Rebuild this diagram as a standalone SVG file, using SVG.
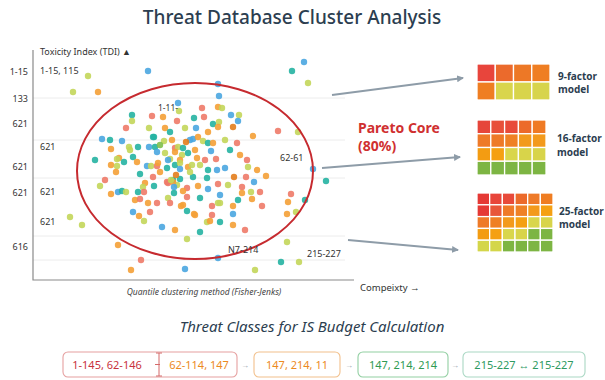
<svg xmlns="http://www.w3.org/2000/svg" width="605" height="380" viewBox="0 0 605 380">
<style>
text{font-family:"Noto Sans","Open Sans","Liberation Sans",sans-serif}
.title{font-size:19px;fill:#2c3e50;font-weight:500}
.sub{font-size:15px;fill:#2c3e50;font-style:italic}
.ax{font-size:9px;fill:#333}
.tk{font-size:9px;fill:#333}
.lab{font-size:9px;fill:#333}
.axis{stroke:#8a8a8a;stroke-width:1.2;fill:none}
.grid{stroke:#ececec;stroke-width:1}
circle{r:3.2px;opacity:.9}
.b{fill:#4aa6e0}.t{fill:#25b3a2}.g{fill:#7fbf4d}.y{fill:#c3d65a}.o{fill:#f4a036}.s{fill:#ee7a68}.d{fill:#e37d1c}
.arr{stroke:#8e9ca8;stroke-width:1.8;fill:none;marker-end:url(#ah)}
.ml{font-size:10px;font-weight:bold;fill:#2c3e50}
.cell{stroke:#fff;stroke-width:1.3}
.box{fill:#fff;stroke-width:1.1}
.bt{font-size:11px}
.sm{font-size:8px;fill:#9aa4ac}
</style>
<defs>
<marker id="ah" markerWidth="8" markerHeight="8" refX="6" refY="4" orient="auto" markerUnits="userSpaceOnUse">
<path d="M0,0.5 L7,4 L0,7.5 Z" fill="#8e9ca8"/>
</marker>
<clipPath id="c9"><rect x="477" y="64" width="73" height="36" rx="3"/></clipPath>
<clipPath id="c16"><rect x="477" y="120" width="69" height="55" rx="3"/></clipPath>
<clipPath id="c25"><rect x="477" y="193" width="76" height="59" rx="3"/></clipPath>
</defs>
<rect width="605" height="380" fill="#fff"/>
<text class="title" x="292" y="24" text-anchor="middle">Threat Database Cluster Analysis</text>

<g id="plot">
<line class="grid" x1="33" y1="98" x2="345" y2="98"/>
<line class="grid" x1="33" y1="140" x2="345" y2="140"/>
<line class="grid" x1="33" y1="178" x2="345" y2="178"/>
<line class="grid" x1="33" y1="236" x2="345" y2="236"/>
<line class="grid" x1="33" y1="260" x2="345" y2="260"/>
<path class="axis" d="M33,50 V280 H354"/>
<text class="ax" x="40" y="55">Toxicity Index (TDI) ▲</text>
<text class="tk" x="28" y="75" text-anchor="end">1-15</text>
<text class="tk" x="28" y="102" text-anchor="end">133</text>
<text class="tk" x="28" y="127" text-anchor="end">621</text>
<text class="tk" x="28" y="170" text-anchor="end">621</text>
<text class="tk" x="28" y="196" text-anchor="end">621</text>
<text class="tk" x="28" y="250" text-anchor="end">616</text>
<text class="lab" x="40" y="74">1-15, 115</text>
<text class="lab" x="40" y="150">621</text>
<text class="lab" x="40" y="195">621</text>
<text class="lab" x="40" y="225">621</text>
<text x="204" y="295" text-anchor="middle" style="font-size:8.5px;font-style:italic;fill:#444">Quantile clustering method (Fisher-Jenks)</text>
<text x="360" y="291" style="font-size:9.5px;fill:#333">Compeixty →</text>
</g>

<g id="dots">
<circle class="b" cx="148" cy="71"/><circle class="y" cx="88" cy="76"/><circle class="y" cx="73" cy="92"/><circle class="o" cx="98" cy="92"/>
<circle class="b" cx="304" cy="62"/><circle class="t" cx="292" cy="71"/><circle class="y" cx="308" cy="83"/>
<circle class="y" cx="70" cy="217"/><circle class="y" cx="82" cy="225"/><circle class="o" cx="118" cy="245"/><circle class="s" cx="141" cy="260"/><circle class="o" cx="131" cy="270"/><circle class="b" cx="185" cy="269"/>
<circle class="t" cx="326" cy="181"/><circle class="y" cx="287" cy="242"/><circle class="t" cx="281" cy="262"/><circle class="y" cx="299" cy="262"/><circle class="y" cx="255" cy="270"/>
<circle class="b" cx="218" cy="84"/><circle class="b" cx="313" cy="169"/><circle class="b" cx="218" cy="258"/><circle class="y" cx="298" cy="132"/><circle class="t" cx="305" cy="200"/>
<circle class="b" cx="178" cy="103"/><circle class="y" cx="179" cy="111"/><circle class="s" cx="152" cy="116"/><circle class="o" cx="163" cy="117"/><circle class="s" cx="177" cy="121"/><circle class="t" cx="132" cy="115"/><circle class="y" cx="132" cy="121"/><circle class="s" cx="126" cy="128"/><circle class="y" cx="149" cy="128"/>
<circle class="b" cx="219" cy="96"/><circle class="s" cx="202" cy="108"/><circle class="s" cx="204" cy="117"/><circle class="o" cx="218" cy="107"/><circle class="y" cx="222" cy="108"/><circle class="t" cx="194" cy="118"/><circle class="b" cx="231" cy="115"/><circle class="y" cx="239" cy="115"/><circle class="b" cx="238" cy="121"/><circle class="t" cx="213" cy="124"/><circle class="y" cx="219" cy="122"/><circle class="o" cx="218" cy="127"/><circle class="d" cx="233" cy="127"/><circle class="s" cx="278" cy="131"/><circle class="o" cx="253" cy="136"/><circle class="s" cx="237" cy="143"/>
<circle class="b" cx="102" cy="139"/><circle class="t" cx="110" cy="140"/><circle class="b" cx="122" cy="141"/><circle class="t" cx="154" cy="137"/><circle class="o" cx="111" cy="149"/><circle class="y" cx="129" cy="147"/><circle class="t" cx="138" cy="147"/><circle class="y" cx="130" cy="150"/><circle class="b" cx="149" cy="147"/><circle class="t" cx="155" cy="147"/><circle class="b" cx="157" cy="152"/><circle class="t" cx="133" cy="157"/><circle class="o" cx="119" cy="158"/><circle class="o" cx="137" cy="162"/><circle class="y" cx="117" cy="159"/><circle class="t" cx="124" cy="162"/><circle class="o" cx="111" cy="165"/><circle class="y" cx="117" cy="166"/><circle class="o" cx="116" cy="172"/><circle class="b" cx="147" cy="166"/><circle class="y" cx="151" cy="166"/><circle class="t" cx="140" cy="174"/><circle class="s" cx="153" cy="177"/><circle class="o" cx="145" cy="183"/><circle class="y" cx="143" cy="187"/><circle class="t" cx="154" cy="186"/><circle class="y" cx="100" cy="186"/><circle class="o" cx="111" cy="194"/><circle class="b" cx="118" cy="192"/><circle class="t" cx="122" cy="191"/><circle class="y" cx="126" cy="192"/><circle class="t" cx="138" cy="192"/><circle class="s" cx="144" cy="192"/><circle class="o" cx="135" cy="200"/><circle class="s" cx="140" cy="199"/><circle class="o" cx="148" cy="203"/><circle class="s" cx="157" cy="203"/><circle class="b" cx="133" cy="212"/><circle class="o" cx="139" cy="216"/><circle class="s" cx="150" cy="212"/><circle class="y" cx="144" cy="221"/><circle class="b" cx="162" cy="227"/><circle class="s" cx="167" cy="182"/><circle class="t" cx="173" cy="180"/><circle class="y" cx="177" cy="185"/>
<circle class="t" cx="153" cy="137"/><circle class="y" cx="164" cy="141"/><circle class="b" cx="190" cy="140"/><circle class="b" cx="193" cy="139"/><circle class="o" cx="198" cy="137"/><circle class="y" cx="203" cy="141"/><circle class="t" cx="208" cy="143"/><circle class="o" cx="213" cy="143"/><circle class="s" cx="175" cy="148"/><circle class="y" cx="178" cy="147"/><circle class="o" cx="175" cy="152"/><circle class="t" cx="183" cy="148"/><circle class="b" cx="211" cy="151"/><circle class="y" cx="182" cy="155"/><circle class="y" cx="170" cy="159"/><circle class="b" cx="168" cy="160"/><circle class="o" cx="180" cy="160"/><circle class="t" cx="175" cy="165"/><circle class="y" cx="180" cy="163"/><circle class="b" cx="180" cy="169"/><circle class="s" cx="157" cy="166"/><circle class="t" cx="167" cy="168"/><circle class="o" cx="158" cy="163"/><circle class="o" cx="188" cy="167"/><circle class="y" cx="192" cy="165"/><circle class="o" cx="197" cy="158"/><circle class="s" cx="216" cy="159"/><circle class="t" cx="193" cy="177"/><circle class="t" cx="207" cy="178"/><circle class="t" cx="208" cy="170"/><circle class="b" cx="217" cy="170"/><circle class="b" cx="225" cy="168"/><circle class="s" cx="168" cy="183"/><circle class="o" cx="173" cy="182"/><circle class="t" cx="180" cy="179"/><circle class="y" cx="171" cy="180"/><circle class="b" cx="174" cy="187"/><circle class="s" cx="187" cy="188"/><circle class="o" cx="183" cy="191"/><circle class="o" cx="198" cy="186"/><circle class="b" cx="208" cy="189"/><circle class="s" cx="218" cy="184"/><circle class="d" cx="234" cy="177"/><circle class="y" cx="168" cy="198"/><circle class="t" cx="174" cy="193"/><circle class="o" cx="183" cy="205"/><circle class="t" cx="200" cy="198"/><circle class="b" cx="220" cy="195"/><circle class="s" cx="187" cy="197"/><circle class="s" cx="212" cy="206"/><circle class="y" cx="218" cy="203"/><circle class="t" cx="187" cy="211"/><circle class="o" cx="181" cy="206"/><circle class="s" cx="170" cy="203"/><circle class="y" cx="207" cy="222"/><circle class="o" cx="210" cy="221"/><circle class="o" cx="194" cy="214"/><circle class="y" cx="187" cy="239"/><circle class="o" cx="195" cy="215"/><circle class="s" cx="212" cy="215"/><circle class="t" cx="220" cy="222"/><circle class="b" cx="233" cy="214"/><circle class="o" cx="233" cy="225"/><circle class="o" cx="233" cy="206"/><circle class="y" cx="220" cy="203"/>
<circle class="s" cx="247" cy="160"/><circle class="y" cx="248" cy="167"/><circle class="o" cx="257" cy="170"/><circle class="o" cx="266" cy="176"/><circle class="s" cx="246" cy="177"/><circle class="b" cx="254" cy="182"/><circle class="s" cx="242" cy="187"/><circle class="o" cx="242" cy="193"/><circle class="y" cx="251" cy="192"/><circle class="s" cx="260" cy="192"/><circle class="o" cx="252" cy="199"/><circle class="s" cx="291" cy="194"/><circle class="o" cx="288" cy="202"/><circle class="o" cx="287" cy="214"/><circle class="y" cx="296" cy="212"/>
<circle class="o" cx="165" cy="128"/><circle class="t" cx="170" cy="132"/><circle class="y" cx="185" cy="128"/><circle class="g" cx="160" cy="145"/><circle class="o" cx="172" cy="140"/><circle class="d" cx="186" cy="142"/><circle class="o" cx="195" cy="150"/><circle class="y" cx="165" cy="153"/><circle class="t" cx="188" cy="153"/><circle class="y" cx="200" cy="165"/><circle class="o" cx="160" cy="172"/><circle class="y" cx="190" cy="172"/><circle class="s" cx="205" cy="160"/><circle class="d" cx="176" cy="175"/><circle class="b" cx="196" cy="128"/><circle class="o" cx="208" cy="132"/><circle class="y" cx="225" cy="140"/><circle class="t" cx="230" cy="150"/><circle class="o" cx="240" cy="155"/><circle class="y" cx="228" cy="185"/><circle class="t" cx="238" cy="200"/><circle class="s" cx="262" cy="206"/><circle class="s" cx="245" cy="230"/><circle class="t" cx="200" cy="232"/><circle class="o" cx="175" cy="230"/><circle class="s" cx="105" cy="180"/><circle class="t" cx="95" cy="160"/>
</g>
<ellipse cx="195" cy="171" rx="118" ry="88" fill="none" stroke="#c62a2f" stroke-width="2"/>
<text x="158" y="111" style="font-size:8.5px;fill:#333">1-11-</text>
<text x="280" y="161" style="font-size:9px;fill:#333">62-61</text>
<text x="228" y="253" style="font-size:9px;fill:#333">N7-214</text>
<text x="307" y="257" style="font-size:9px;fill:#333">215-227</text>
<text x="358" y="133" style="font-size:14px;font-weight:bold;fill:#d03030">Pareto Core</text>
<text x="358" y="151" style="font-size:14px;font-weight:bold;fill:#d03030">(80%)</text>

<g id="connectors">
<line class="arr" x1="332" y1="95" x2="463" y2="78"/>
<line class="arr" x1="322" y1="168" x2="460" y2="157"/>
<line class="arr" x1="348" y1="240" x2="458" y2="250"/>
</g>

<g id="model9">
<g clip-path="url(#c9)">
<rect class="cell" x="477" y="64" width="18.25" height="18" fill="#e8453c"/><rect class="cell" x="495.25" y="64" width="18.25" height="18" fill="#eb6a2c"/><rect class="cell" x="513.5" y="64" width="18.25" height="18" fill="#ed7826"/><rect class="cell" x="531.75" y="64" width="18.25" height="18" fill="#ef7e22"/>
<rect class="cell" x="477" y="82" width="18.25" height="18" fill="#ef7e22"/><rect class="cell" x="495.25" y="82" width="18.25" height="18" fill="#d9d54c"/><rect class="cell" x="513.5" y="82" width="18.25" height="18" fill="#d8d44b"/><rect class="cell" x="531.75" y="82" width="18.25" height="18" fill="#d7d44c"/>
</g>
<text class="ml" x="558" y="80">9-factor</text>
<text class="ml" x="558" y="93">model</text>
</g>

<g id="model16">
<g clip-path="url(#c16)">
<rect class="cell" x="477" y="120" width="13.8" height="13.75" fill="#e6463a"/><rect class="cell" x="490.8" y="120" width="13.8" height="13.75" fill="#e8503a"/><rect class="cell" x="504.6" y="120" width="13.8" height="13.75" fill="#e84a3a"/><rect class="cell" x="518.4" y="120" width="13.8" height="13.75" fill="#ec6a2a"/><rect class="cell" x="532.2" y="120" width="13.8" height="13.75" fill="#ef7a24"/>
<rect class="cell" x="477" y="133.75" width="13.8" height="13.75" fill="#ee7a28"/><rect class="cell" x="490.8" y="133.75" width="13.8" height="13.75" fill="#ee7a28"/><rect class="cell" x="504.6" y="133.75" width="13.8" height="13.75" fill="#ef8125"/><rect class="cell" x="518.4" y="133.75" width="13.8" height="13.75" fill="#f29a1c"/><rect class="cell" x="532.2" y="133.75" width="13.8" height="13.75" fill="#f39a1c"/>
<rect class="cell" x="477" y="147.5" width="13.8" height="13.75" fill="#f39c12"/><rect class="cell" x="490.8" y="147.5" width="13.8" height="13.75" fill="#f5a012"/><rect class="cell" x="504.6" y="147.5" width="13.8" height="13.75" fill="#d9d64c"/><rect class="cell" x="518.4" y="147.5" width="13.8" height="13.75" fill="#d8d44a"/><rect class="cell" x="532.2" y="147.5" width="13.8" height="13.75" fill="#d8d44a"/>
<rect class="cell" x="477" y="161.25" width="13.8" height="13.75" fill="#7db543"/><rect class="cell" x="490.8" y="161.25" width="13.8" height="13.75" fill="#7db543"/><rect class="cell" x="504.6" y="161.25" width="13.8" height="13.75" fill="#7db543"/><rect class="cell" x="518.4" y="161.25" width="13.8" height="13.75" fill="#7db543"/><rect class="cell" x="532.2" y="161.25" width="13.8" height="13.75" fill="#7db543"/>
</g>
<text class="ml" x="557" y="142">16-factor</text>
<text class="ml" x="557" y="156">model</text>
</g>

<g id="model25">
<g clip-path="url(#c25)">
<rect class="cell" x="477" y="193" width="12.67" height="11.8" fill="#e53935"/><rect class="cell" x="489.67" y="193" width="12.67" height="11.8" fill="#e8453a"/><rect class="cell" x="502.33" y="193" width="12.67" height="11.8" fill="#e84a3a"/><rect class="cell" x="515" y="193" width="12.67" height="11.8" fill="#ec6a2a"/><rect class="cell" x="527.67" y="193" width="12.67" height="11.8" fill="#ee7a28"/><rect class="cell" x="540.33" y="193" width="12.67" height="11.8" fill="#ef7d22"/>
<rect class="cell" x="477" y="204.8" width="12.67" height="11.8" fill="#e53935"/><rect class="cell" x="489.67" y="204.8" width="12.67" height="11.8" fill="#e8553a"/><rect class="cell" x="502.33" y="204.8" width="12.67" height="11.8" fill="#ef7a28"/><rect class="cell" x="515" y="204.8" width="12.67" height="11.8" fill="#ef8125"/><rect class="cell" x="527.67" y="204.8" width="12.67" height="11.8" fill="#f39a1c"/><rect class="cell" x="540.33" y="204.8" width="12.67" height="11.8" fill="#f5a012"/>
<rect class="cell" x="477" y="216.6" width="12.67" height="11.8" fill="#ee7a28"/><rect class="cell" x="489.67" y="216.6" width="12.67" height="11.8" fill="#ef7f25"/><rect class="cell" x="502.33" y="216.6" width="12.67" height="11.8" fill="#f39a1c"/><rect class="cell" x="515" y="216.6" width="12.67" height="11.8" fill="#f5a012"/><rect class="cell" x="527.67" y="216.6" width="12.67" height="11.8" fill="#d9d64c"/><rect class="cell" x="540.33" y="216.6" width="12.67" height="11.8" fill="#d8d44a"/>
<rect class="cell" x="477" y="228.4" width="12.67" height="11.8" fill="#f39c12"/><rect class="cell" x="489.67" y="228.4" width="12.67" height="11.8" fill="#f5a012"/><rect class="cell" x="502.33" y="228.4" width="12.67" height="11.8" fill="#d9d64c"/><rect class="cell" x="515" y="228.4" width="12.67" height="11.8" fill="#d8d44a"/><rect class="cell" x="527.67" y="228.4" width="12.67" height="11.8" fill="#7db543"/><rect class="cell" x="540.33" y="228.4" width="12.67" height="11.8" fill="#7db543"/>
<rect class="cell" x="477" y="240.2" width="12.67" height="11.8" fill="#d4d64a"/><rect class="cell" x="489.67" y="240.2" width="12.67" height="11.8" fill="#d4d64a"/><rect class="cell" x="502.33" y="240.2" width="12.67" height="11.8" fill="#7db543"/><rect class="cell" x="515" y="240.2" width="12.67" height="11.8" fill="#7db543"/><rect class="cell" x="527.67" y="240.2" width="12.67" height="11.8" fill="#7db543"/><rect class="cell" x="540.33" y="240.2" width="12.67" height="11.8" fill="#7db543"/>
</g>
<text class="ml" x="559" y="215">25-factor</text>
<text class="ml" x="559" y="228">model</text>
</g>

<text class="sub" x="312" y="332" text-anchor="middle">Threat Classes for IS Budget Calculation</text>

<g id="class1">
<rect class="box" x="63" y="352" width="174" height="25" rx="5" stroke="#e6a0a0"/>
<text class="bt" x="107" y="369" text-anchor="middle" fill="#c8323c">1-145, 62-146</text>
<path d="M155,364.5 H160 M159,353 V376 M156,353 H162 M156,376 H162" stroke="#d46a6a" stroke-width="1" fill="none"/>
<text class="bt" x="199" y="369" text-anchor="middle" fill="#ec8a1e">62-114, 147</text>
</g>
<g id="class2">
<rect class="box" x="254" y="352" width="86" height="25" rx="5" stroke="#f2c08c"/>
<text class="bt" x="297" y="369" text-anchor="middle" fill="#ec8a1e">147, 214, 11</text>
</g>
<g id="class3">
<rect class="box" x="358" y="352" width="90" height="25" rx="5" stroke="#92cfa2"/>
<text class="bt" x="403" y="369" text-anchor="middle" fill="#2e9a52">147, 214, 214</text>
</g>
<g id="class4">
<rect class="box" x="463" y="352" width="122" height="25" rx="5" stroke="#aad8c4"/>
<text class="bt" x="524" y="369" text-anchor="middle" fill="#2e9a62">215-227 ↔ 215-227</text>
</g>
<g id="flow">
<text class="sm" x="245" y="368" text-anchor="middle">→</text>
<text class="sm" x="349" y="368" text-anchor="middle">→</text>
<text class="sm" x="455" y="368" text-anchor="middle">→</text>
</g>
</svg>
